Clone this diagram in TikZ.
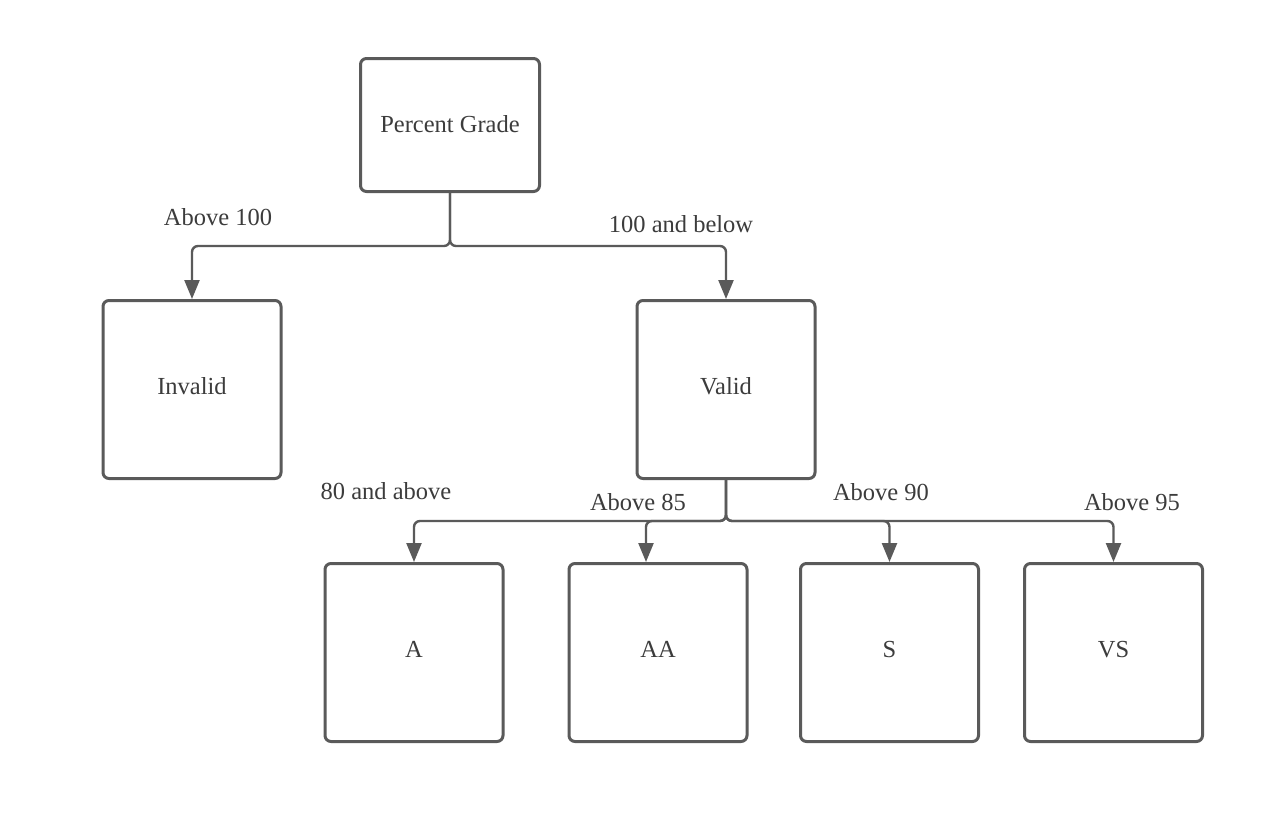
\documentclass[tikz,border=0pt]{standalone}
\usepackage{fontspec}
\setmainfont{Liberation Serif}
\usetikzlibrary{arrows.meta}
\definecolor{edge}{HTML}{5A5A5A}
\definecolor{ink}{HTML}{3C3C3C}
\begin{document}
\begin{tikzpicture}[x=1pt,y=-1pt,
  box/.style={draw=edge,line width=3pt,rounded corners=6pt,minimum width=178pt,minimum height=178pt,
    inner sep=0pt,font=\fontsize{24.5}{27}\selectfont,text=ink},
  boxtext/.style={font=\fontsize{24.5}{27}\selectfont,text=ink,inner sep=0pt},
  link/.style={draw=edge,line width=2.4pt,rounded corners=6pt,
    -{Triangle[width=15pt,length=19pt]}},
  lbl/.style={font=\fontsize{24.5}{27}\selectfont,text=ink,inner sep=0pt}]
\useasboundingbox (0,0) rectangle (1274,830);
\fill[white] (0,0) rectangle (1274,830);

% boxes
\node[box,minimum width=179pt,minimum height=133pt] (pg) at (450,125) {};
\node[box] (inv) at (192,389.5) {};
\node[box] (val) at (726,389.5) {};
\node[box] (a)  at (414,652.5) {};
\node[box] (aa) at (658,652.5) {};
\node[box] (s)  at (889.5,652.5) {};
\node[box] (vs) at (1113.5,652.5) {};

% box captions, set a little above centre
\node[boxtext] (tpg)  at ([yshift=1pt]pg.center)  {Percent Grade};
\node[boxtext] (tinv) at ([yshift=3pt]inv.center) {Invalid};
\node[boxtext] (tval) at ([yshift=3pt]val.center) {Valid};
\node[boxtext] (ta)   at ([yshift=3pt]a.center)   {A};
\node[boxtext] (taa)  at ([yshift=3pt]aa.center)  {AA};
\node[boxtext] (ts)   at ([yshift=3pt]s.center)   {S};
\node[boxtext] (tvs)  at ([yshift=3pt]vs.center)  {VS};

% junction points of the two splits
\coordinate (j1) at (450,246);
\coordinate (j2) at (726,521);

% first split
\draw[link] (pg.south) -- (j1) -| (inv.north);
\draw[link] (pg.south) -- (j1) -| (val.north);

% second split
\draw[link] (val.south) -- (j2) -| (a.north);
\draw[link] (val.south) -- (j2) -| ([xshift=-12pt]aa.north);
\draw[link] (val.south) -- (j2) -| (s.north);
\draw[link] (val.south) -- (j2) -| (vs.north);

% branch labels
\node[lbl] (l1) at (218,217) {Above 100};
\node[lbl] (l2) at (681,224) {100 and below};
\node[lbl] (l3) at (386,491) {80 and above};
\node[lbl] (l4) at (638,502) {Above 85};
\node[lbl] (l5) at (881,492) {Above 90};
\node[lbl] (l6) at (1132,502) {Above 95};
\end{tikzpicture}
\end{document}
